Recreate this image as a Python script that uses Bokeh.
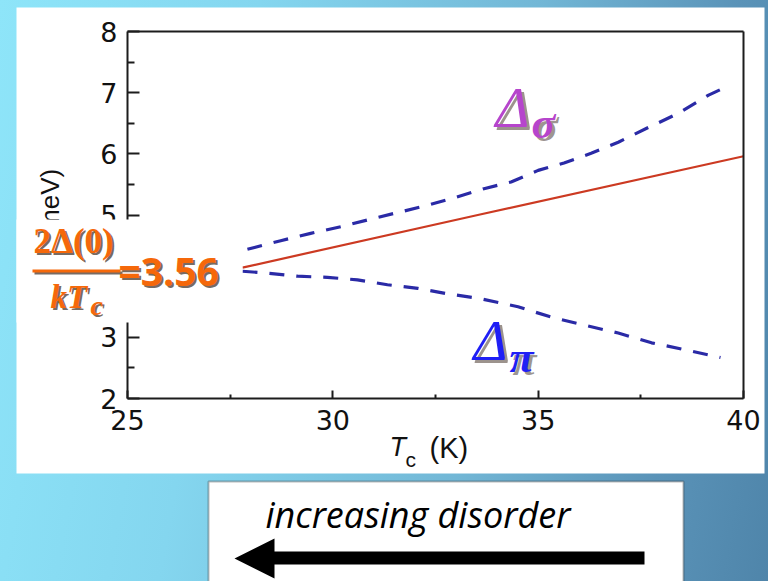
from bokeh.plotting import figure
from bokeh.models import (Label, BoxAnnotation, PolyAnnotation, LinearAxis,
                          FixedTicker, Range1d)
from bokeh.embed import file_html
from bokeh.resources import INLINE

# ---------------- data ----------------
x_ticks = [25, 30, 35, 40]
x_minor = [27.5, 32.5, 37.5]
y_ticks = [2, 3, 4, 5, 6, 7, 8]
y_minor = [2.5, 3.5, 4.5, 5.5, 6.5, 7.5]

# BCS line 2Δ(0)/kTc = 3.56
tc_bcs = [27.8, 33.53, 40.0]
gap_bcs = [4.14, 5.00, 5.96]

# Δσ (upper dashed)
tc_sigma = [27.92, 28.73, 29.46, 30.20, 30.85, 31.58, 32.31, 32.95, 33.68,
            34.34, 35.00, 35.63, 36.29, 36.95, 37.68, 38.41, 39.15, 39.44]
gap_sigma = [4.44, 4.58, 4.70, 4.81, 4.92, 5.04, 5.16, 5.28, 5.43,
             5.54, 5.73, 5.85, 6.01, 6.19, 6.43, 6.66, 6.96, 7.05]

# Δπ (lower dashed)
tc_pi = [27.80, 28.41, 29.14, 29.87, 30.60, 31.33, 32.07, 32.80, 33.53,
         34.51, 35.32, 36.12, 36.95, 37.76, 38.56, 39.44]
gap_pi = [4.08, 4.05, 4.00, 3.98, 3.94, 3.86, 3.80, 3.71, 3.64,
          3.50, 3.33, 3.20, 3.07, 2.91, 2.80, 2.67]

# ---------------- layout helpers (pixel -> data) ----------------
W, H = 768, 581
FL, FR, FT, FB = 127, 743, 31, 398
XMIN, XMAX, YMIN, YMAX = 25, 40, 2, 8
BASE_FIX = 0.34   # alphabetic baseline correction (fraction of font size)


def dx(px):
    return XMIN + (px - FL) * (XMAX - XMIN) / (FR - FL)


def dy(py):
    return YMIN + (FB - py) * (YMAX - YMIN) / (FB - FT)


p = figure(width=W, height=H, output_backend="svg", toolbar_location=None,
           x_range=Range1d(dx(0), dx(W)), y_range=Range1d(dy(H), dy(0)),
           x_axis_type=None, y_axis_type=None,
           min_border=0, min_border_left=0, min_border_right=0,
           min_border_top=0, min_border_bottom=0)
p.border_fill_color = None
p.background_fill_color = None
p.outline_line_color = None
p.grid.visible = False
p.styles = {"background": "linear-gradient(100deg, #8ee5f9 0%, #84d6ef 30%, "
                          "#72b7d6 62%, #5a93b8 85%, #4f85aa 100%)"}

AX = "#1c1c1c"
TICK_FONT = "DejaVu Sans"

xaxis = LinearAxis(ticker=FixedTicker(ticks=x_ticks, minor_ticks=x_minor),
                   fixed_location=YMIN, bounds=(XMIN, XMAX))
yaxis = LinearAxis(ticker=FixedTicker(ticks=y_ticks, minor_ticks=y_minor),
                   fixed_location=XMIN, bounds=(YMIN, YMAX))
for ax in (xaxis, yaxis):
    ax.axis_line_color = AX
    ax.axis_line_width = 2
    ax.major_tick_line_color = AX
    ax.major_tick_line_width = 2
    ax.minor_tick_line_color = AX
    ax.minor_tick_line_width = 2
    ax.major_tick_out = 0
    ax.minor_tick_out = 0
    ax.major_label_text_font = TICK_FONT
    ax.major_label_text_font_size = "27px"
    ax.major_label_text_color = "#111111"
xaxis.major_tick_in = 8
xaxis.minor_tick_in = 4
yaxis.major_tick_in = 12
yaxis.minor_tick_in = 7
xaxis.major_label_standoff = 11
yaxis.major_label_standoff = 10
yaxis.axis_label = "Δ (meV)"
yaxis.axis_label_text_font = "Liberation Sans"
yaxis.axis_label_text_font_style = "normal"
yaxis.axis_label_text_font_size = "26px"
yaxis.axis_label_text_color = "#111111"
yaxis.axis_label_standoff = 32
p.add_layout(xaxis, "below")
p.add_layout(yaxis, "left")

topaxis = LinearAxis(ticker=FixedTicker(ticks=[]), fixed_location=YMAX,
                     bounds=(XMIN, XMAX))
rightaxis = LinearAxis(ticker=FixedTicker(ticks=[]), fixed_location=XMAX,
                       bounds=(YMIN, YMAX))
for a in (topaxis, rightaxis):
    a.axis_line_color = AX
    a.axis_line_width = 2
    a.major_tick_in = 0
    a.major_tick_out = 0
    a.minor_tick_in = 0
    a.minor_tick_out = 0
    a.major_label_text_font_size = "1px"
p.add_layout(topaxis, "above")
p.add_layout(rightaxis, "right")

# white slide panel behind the chart
p.add_layout(BoxAnnotation(left=dx(16), right=dx(764), top=dy(7), bottom=dy(473),
                           fill_color="white", fill_alpha=1.0, line_color=None,
                           level="underlay"))

# ---------------- curves ----------------
p.line(tc_bcs, gap_bcs, line_color="#cc3a22", line_width=2.2)
p.line(tc_sigma, gap_sigma, line_color="#2a2aa6", line_width=3.2,
       line_dash="15 12")
p.line(tc_pi, gap_pi, line_color="#2a2aa6", line_width=3.2,
       line_dash="15 12")


def text(x, y, t, font, size, style, color, alpha=1.0):
    s = float(size.replace("px", ""))
    p.add_layout(Label(x=dx(x), y=dy(y - BASE_FIX * s), text=t, text_font=font,
                       text_font_size=size, text_font_style=style,
                       text_color=color, text_alpha=alpha,
                       text_baseline="alphabetic"))


ORANGE = "#f5680a"
SHADOW = "#4a3a30"


def shadowed(x, y, t, font, size, style, color, off=2, alpha=0.75):
    text(x + off, y + off, t, font, size, style, SHADOW, alpha)
    text(x, y, t, font, size, style, color)


# ---------------- 2Δ(0)/kTc = 3.56 label on a white box ----------------
p.add_layout(BoxAnnotation(left=dx(16), right=dx(242), top=dy(219), bottom=dy(322),
                           fill_color="white", fill_alpha=1.0, line_color=None))
shadowed(33, 253, "2Δ(0)", "Liberation Serif", "35px", "bold", ORANGE)
p.add_layout(BoxAnnotation(left=dx(34), right=dx(122), top=dy(271), bottom=dy(274),
                           fill_color=SHADOW, fill_alpha=0.75, line_color=None))
p.add_layout(BoxAnnotation(left=dx(32), right=dx(120), top=dy(269), bottom=dy(272),
                           fill_color=ORANGE, fill_alpha=1.0, line_color=None))
shadowed(50, 308, "kT", "Liberation Serif", "33px", "bold italic", ORANGE)
shadowed(90, 315, "c", "Liberation Serif", "28px", "bold italic", ORANGE)
shadowed(118, 283, "=3.56", "Open Sans", "39px", "bold", ORANGE)

# ---------------- Δσ and Δπ labels ----------------
shadowed(495, 127, "Δ", "Liberation Serif", "58px", "italic", "#b645cc", off=3, alpha=0.55)
shadowed(531, 138, "σ", "Liberation Serif", "44px", "bold italic", "#b645cc", off=3, alpha=0.55)
shadowed(473, 360, "Δ", "Liberation Serif", "58px", "italic", "#1f1ff5", off=3, alpha=0.55)
shadowed(509, 372, "π", "Liberation Serif", "44px", "bold italic", "#1f1ff5", off=3, alpha=0.55)

# ---------------- x axis title T_c (K) ----------------
text(389, 456, "T", "Liberation Sans", "27px", "italic", "#111111")
text(405, 466, "c", "Liberation Sans", "21px", "normal", "#111111")
text(429, 457, "(K)", "Liberation Sans", "29px", "normal", "#111111")

# ---------------- bottom box with arrow ----------------
p.add_layout(BoxAnnotation(left=dx(208), right=dx(683), top=dy(481), bottom=dy(600),
                           fill_color="white", fill_alpha=1.0,
                           line_color="#1a1a1a", line_width=2))
text(265, 526, "increasing disorder", "Open Sans", "36px", "italic", "black")
arrow_px = [(234, 558), (274, 538), (274, 551), (644, 551), (644, 564),
            (274, 564), (274, 578)]
p.add_layout(PolyAnnotation(xs=[dx(a) for a, b in arrow_px],
                            ys=[dy(b) for a, b in arrow_px],
                            fill_color="black", fill_alpha=1.0, line_color=None))

open("out.html", "w").write(file_html(p, INLINE))
